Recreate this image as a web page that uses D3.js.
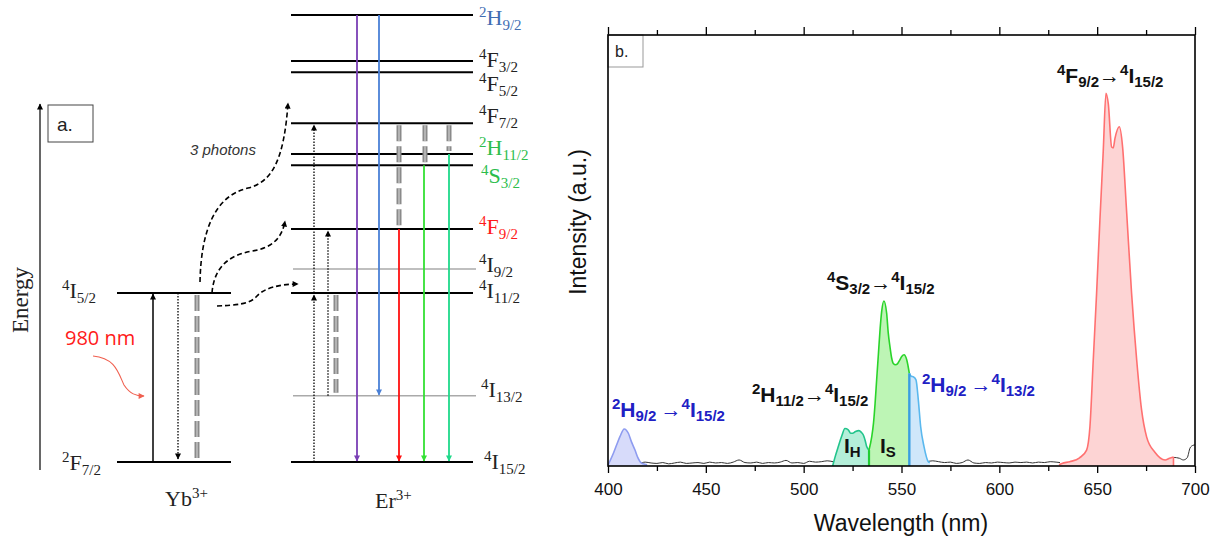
<!DOCTYPE html>
<html><head><meta charset="utf-8">
<script src="https://cdn.jsdelivr.net/npm/d3@7"></script>
<style>body{margin:0;background:#fff}svg{display:block}</style>
</head><body>
<script>
// ===== DATA =====
// Panel a: energy levels (diagram units, 0 = ground)
const erLevelNames  = ['4I15/2','4I13/2','4I11/2','4I9/2','4F9/2','4S3/2','2H11/2','4F7/2','4F5/2','4F3/2','2H9/2'];
const erLevelEnergy = [0, 14.8, 37.8, 43.2, 52.1, 66.4, 68.9, 75.8, 87.2, 89.7, 100];
const ybLevelNames  = ['2F7/2','4I5/2'];
const ybLevelEnergy = [0, 37.8];
const erEmissions   = [['2H9/2','4I15/2'],['2H9/2','4I13/2'],['4F9/2','4I15/2'],['4S3/2','4I15/2'],['2H11/2','4I15/2']];
const erNonRad      = [['4F7/2','4F9/2'],['4F7/2','4S3/2'],['4F7/2','2H11/2'],['4I11/2','4I13/2']];
const erExcite      = [['4I15/2','4I11/2'],['4I11/2','4F7/2'],['4I13/2','4F9/2']];
const etTargets     = ['4F7/2','4F9/2','4I11/2'];

// Panel b: spectrum (wavelength nm, intensity a.u.)
const xTicks = [400,450,500,550,600,650,700];
const xMinorTicks = [425,475,525,575,625,675];
const violetWl = [400,402.7,404.5,406.1,408.3,410.4,412,413.8,415.2,416.4,418,420];
const violetI  = [0.2,2.9,5,6.8,8.6,7.6,5.6,3.7,2,1,0.5,0.3];
const ihWl = [514.8,516,517.7,519.5,521.1,522.8,524,525,526.5,528.2,529.5,530.5,531.5,532.2,533.4];
const ihI  = [0,2,4.5,7,8.7,8.4,7.6,7.6,8.0,8.2,7.8,7.2,5.8,4.5,3.7];
const isWl = [533.4,534.8,535.7,536.5,537.3,538.2,539.1,539.9,541,542.4,543.2,544.1,545,545.8,547,547.9,549,550.1,551.3,552.7,554];
const isI  = [3.7,6.8,10,14.5,20,26,32,36,38.3,35.5,31,27.7,25,23.8,23.5,23.7,24.5,25.4,25.8,24.6,21.5];
const blueWl = [554,555,556,557.4,558.6,559.8,561.5,563.7,564.5];
const blueI  = [21.5,20.8,20.7,20,15.3,9.1,4.5,1,0.8];
const redWl = [630.5,632,636,641,644.6,646.3,648,649.7,651.4,653.1,654.5,655.7,657.4,658.2,659.1,661.3,663,665,667.6,670.2,672.7,675.3,679.5,684.7,687,689];
const redI  = [0.3,0.6,1.0,1.9,3.7,9.1,24.6,40,57,73,86.5,84,74,73.8,76,78.7,74,59.4,40,24.6,13,6.7,3.2,1.4,1.8,2.1];
const noise1Wl = [416,419,422,425,428,431,434,437,440,443,446,449,452,455,458,461,464,467,470,473,476,479,482,485,488,491,494,497,500,503,506,509,512,515];
const noise1I  = [0.5,0.9,0.7,0.6,0.8,0.5,0.7,0.9,0.6,0.7,0.8,0.6,0.9,0.7,0.8,0.6,0.9,1.4,0.8,0.7,0.9,0.6,0.8,0.7,0.9,1.3,0.7,0.8,0.6,1.1,0.9,1.0,1.2,1.0];
const noise2Wl = [563,566,569,572,575,578,581,584,587,590,593,596,599,602,605,608,611,614,617,620,623,626,629,631];
const noise2I  = [1.0,1.2,1.0,0.8,0.9,0.6,0.8,1.4,0.7,0.6,0.8,0.7,0.9,0.8,0.7,0.9,0.8,0.9,0.7,0.9,0.8,1.0,0.9,0.8];
const noise3Wl = [689,692,694,696,697.5,699,700];
const noise3I  = [2.0,1.8,1.4,1.9,4.2,4.8,4.9];

// ===== DRAWING =====
const svg = d3.select('body').append('svg').attr('width',1217).attr('height',541)
  .attr('font-family','"Liberation Sans", Arial, sans-serif');
const defs = svg.append('defs');
function marker(id, color, w=7, h=6){
  defs.append('marker').attr('id',id).attr('viewBox','0 0 10 10').attr('refX',9).attr('refY',5)
    .attr('markerWidth',w).attr('markerHeight',h).attr('markerUnits','userSpaceOnUse').attr('orient','auto')
    .append('path').attr('d','M0,0 L10,5 L0,10 z').attr('fill',color);
}
marker('ak','#000'); marker('ared','#f06050');

function rich(sel, x, y, parts, base, small, supS, subS){
  const t = sel.append('text').attr('x',x).attr('y',y);
  let cur = 0;
  parts.forEach(([s,k,extra])=>{
    const tgt = k==='sup' ? -supS : k==='sub' ? subS : 0;
    const ts = t.append('tspan').attr('dy',tgt-cur).attr('font-size', k==='n'?base:small).text(s);
    if (extra) Object.entries(extra).forEach(([a,v])=>ts.attr(a,v));
    cur = tgt;
  });
  return t;
}
const termParts = n => [[n[0],'sup'],[n[1],'n'],[n.slice(2),'sub']];

// ---------- Panel a ----------
const yE = d3.scaleLinear().domain([0,100]).range([462,15]);
const erY = n => yE(erLevelEnergy[erLevelNames.indexOf(n)]);
const ybY = n => yE(ybLevelEnergy[ybLevelNames.indexOf(n)]);
const A = svg.append('g');
const serif = '"Liberation Serif", "Times New Roman", serif';

// energy axis
A.append('line').attr('x1',40).attr('x2',40).attr('y1',470).attr('y2',104)
  .attr('stroke','#000').attr('stroke-width',1.2).attr('marker-end','url(#ak)');
A.append('text').attr('transform','translate(28,300) rotate(-90)').attr('text-anchor','middle')
  .attr('font-family',serif).attr('font-size',23).attr('fill','#222').text('Energy');
A.append('rect').attr('x',48).attr('y',105).attr('width',45).attr('height',37).attr('fill','#fff').attr('stroke','#444');
A.append('text').attr('x',57).attr('y',131).attr('font-size',19).attr('fill','#222').text('a.');

// Yb levels
const grayLevels = ['4I9/2','4I13/2'];
ybLevelNames.forEach(n=>{
  A.append('line').attr('x1',117).attr('x2',231).attr('y1',ybY(n)).attr('y2',ybY(n)).attr('stroke','#000').attr('stroke-width',2);
});
rich(A.append('g').attr('font-family',serif).attr('fill','#222'),62,ybY('4I5/2')+5,termParts('4I5/2'),22,15,8,5);
rich(A.append('g').attr('font-family',serif).attr('fill','#222'),62,ybY('2F7/2')+8,termParts('2F7/2'),22,15,8,5);
rich(A.append('g').attr('font-family',serif).attr('fill','#222'),165,506,[['Yb','n'],['3+','sup']],22,15,8,5);

// Er levels
const erLabelColor = {'2H9/2':'#3f6db3','2H11/2':'#2cbd4c','4S3/2':'#2cbd4c','4F9/2':'#ff1a1a'};
const erLabelDy = {'2H9/2':10,'4F3/2':6,'4F5/2':19,'4F7/2':0,'2H11/2':1,'4S3/2':18,'4F9/2':5,'4I9/2':3,'4I11/2':5,'4I13/2':1,'4I15/2':7};
erLevelNames.forEach(n=>{
  const gray = grayLevels.includes(n);
  A.append('line').attr('x1',gray?293:291).attr('x2',gray?476:473).attr('y1',erY(n)).attr('y2',erY(n))
    .attr('stroke',gray?'#aaa':'#000').attr('stroke-width',gray?1.5:2);
  rich(A.append('g').attr('font-family',serif).attr('fill',erLabelColor[n]||'#222'),
       n==='4I15/2'?484:(n==='4S3/2'||n==='4I13/2'?481:479), erY(n)+erLabelDy[n], termParts(n),22,15,8,5);
});
rich(A.append('g').attr('font-family',serif).attr('fill','#222'),375,508,[['Er','n'],['3+','sup']],22,15,8,5);

// gray non-radiative helper
function nonrad(x,y1,y2){
  [['#8a8a8a',5],['#cfcfcf',1.2]].forEach(([c,w])=>{
    A.append('line').attr('x1',x).attr('x2',x).attr('y1',y1).attr('y2',y2)
      .attr('stroke',c).attr('stroke-width',w).attr('stroke-dasharray','16,5');
  });
}
// Yb transitions
A.append('line').attr('x1',153).attr('x2',153).attr('y1',ybY('2F7/2')).attr('y2',ybY('4I5/2')+1)
  .attr('stroke','#000').attr('stroke-width',1.5).attr('marker-end','url(#ak)');
A.append('line').attr('x1',178).attr('x2',178).attr('y1',ybY('4I5/2')).attr('y2',ybY('2F7/2')-3)
  .attr('stroke','#000').attr('stroke-width',1.3).attr('stroke-dasharray','1.5,1.5').attr('marker-end','url(#ak)');
nonrad(197, ybY('4I5/2')+2, ybY('2F7/2'));

// Er emissions
const emX = [357,379,399,424,449];
const emC = ['#7a3fb5','#4a80d6','#ff1010','#33e033','#1fd98a'];
erEmissions.forEach(([f,t],i)=>{
  marker('am'+i, emC[i]);
  A.append('line').attr('x1',emX[i]).attr('x2',emX[i]).attr('y1',erY(f)).attr('y2',erY(t)-1)
    .attr('stroke',emC[i]).attr('stroke-width',1.8).attr('marker-end',`url(#am${i})`);
});
// non radiative
const nrX = [399,425,449,336];
erNonRad.forEach(([f,t],i)=>nonrad(nrX[i], erY(f)+2, erY(t)-3));
// excitations (dotted)
const exX = [314,314,328];
erExcite.forEach(([f,t],i)=>{
  A.append('line').attr('x1',exX[i]).attr('x2',exX[i]).attr('y1',erY(f)).attr('y2',erY(t)+2)
    .attr('stroke','#000').attr('stroke-width',1.3).attr('stroke-dasharray','1.5,1.5').attr('marker-end','url(#ak)');
});
// energy transfer dashed curves
const yb5 = ybY('4I5/2');
const etPaths = [
  p=>{const e=erY(etTargets[0])-20; p.moveTo(200,yb5-11); p.bezierCurveTo(201,yb5-61,214,yb5-97,248,yb5-105); p.bezierCurveTo(272,yb5-111,284,e+57,288,e);},
  p=>{const e=erY(etTargets[1])-8; p.moveTo(212,yb5); p.bezierCurveTo(214,yb5-27,230,yb5-38,252,yb5-42); p.bezierCurveTo(272,yb5-45,282,e+17,285,e);},
  p=>{const e=erY(etTargets[2])-9; p.moveTo(217,yb5+13); p.bezierCurveTo(238,yb5+12,250,yb5+11,257,yb5+3); p.bezierCurveTo(264,yb5-5,280,e,298,e);}
];
etPaths.forEach(fn=>{
  const p=d3.path(); fn(p);
  A.append('path').attr('d',p.toString()).attr('fill','none').attr('stroke','#000').attr('stroke-width',1.6)
    .attr('stroke-dasharray','5,3').attr('marker-end','url(#ak)');
});
A.append('text').attr('x',190).attr('y',155).attr('font-size',15).attr('font-style','italic').attr('fill','#333').text('3 photons');
// 980 nm
A.append('text').attr('x',65).attr('y',345).attr('font-size',20).attr('font-family','"Open Sans", sans-serif').attr('fill','#ff1a1a').text('980 nm');
{const p=d3.path(); p.moveTo(93,356); p.bezierCurveTo(115,358,118,372,124,385); p.bezierCurveTo(130,394,136,396,144,396);
 A.append('path').attr('d',p.toString()).attr('fill','none').attr('stroke','#f06050').attr('stroke-width',1.1).attr('marker-end','url(#ared)');}

// ---------- Panel b ----------
const xW = d3.scaleLinear().domain([400,700]).range([608,1195]);
const yI = d3.scaleLinear().domain([0,100]).range([466,35]);
const B = svg.append('g');
const area = d3.area().x(d=>xW(d[0])).y0(yI(0)).y1(d=>yI(d[1])).curve(d3.curveMonotoneX);
const line = d3.line().x(d=>xW(d[0])).y(d=>yI(d[1])).curve(d3.curveMonotoneX);
const zip = (a,b)=>a.map((v,i)=>[v,b[i]]);

[[noise1Wl,noise1I],[noise2Wl,noise2I],[noise3Wl,noise3I]].forEach(([w,v])=>{
  B.append('path').attr('d',line(zip(w,v))).attr('fill','none').attr('stroke','#333').attr('stroke-width',1);
});
const bands = [
  [violetWl,violetI,'#d7dbfa','#8e9cf0'],
  [ihWl,ihI,'#b4efd9','#22c48c'],
  [isWl,isI,'#bdf5b5','#2ad42a'],
  [blueWl,blueI,'#cfe7fa','#5ab8ee'],
  [redWl,redI,'#fdd4d4','#ff7070']
];
bands.forEach(([w,v,f,s])=>{
  const d = zip(w,v);
  B.append('path').attr('d', area(d)).attr('fill',f);
  B.append('path').attr('d', line(d)).attr('fill','none').attr('stroke',s).attr('stroke-width',1.6);
});
// vertical edges
B.append('line').attr('x1',xW(689)).attr('x2',xW(689)).attr('y1',yI(0)).attr('y2',yI(2.1)).attr('stroke','#ff7070').attr('stroke-width',1.6);
B.append('line').attr('x1',xW(533.4)).attr('x2',xW(533.4)).attr('y1',yI(0)).attr('y2',yI(3.7)).attr('stroke','#22cc33').attr('stroke-width',2.2);
B.append('line').attr('x1',xW(554)).attr('x2',xW(554)).attr('y1',yI(0)).attr('y2',yI(21.5)).attr('stroke','#3a9ee0').attr('stroke-width',2.4);

// frame + axes
const axB = B.append('g').attr('transform','translate(0,466)')
  .call(d3.axisBottom(xW).tickValues(xTicks).tickSize(7).tickPadding(10).tickFormat(d3.format('d')));
B.append('g').attr('transform','translate(0,466)').call(d3.axisBottom(xW).tickValues(xMinorTicks).tickSize(5).tickFormat(''));
B.append('g').attr('transform','translate(0,35)').call(d3.axisTop(xW).tickValues(xTicks).tickSize(8).tickFormat(''));
B.append('g').attr('transform','translate(0,35)').call(d3.axisTop(xW).tickValues(xMinorTicks).tickSize(5).tickFormat(''));
B.selectAll('.domain').remove();
B.selectAll('.tick line').attr('stroke','#000').attr('stroke-width',1.3);
axB.selectAll('text').attr('font-size',17).attr('font-family','"Liberation Sans", Arial, sans-serif').attr('fill','#111');
B.append('text').attr('x',901).attr('y',531).attr('text-anchor','middle').attr('font-size',23).attr('fill','#111').text('Wavelength (nm)');
B.append('text').attr('transform','translate(586,222) rotate(-90)').attr('text-anchor','middle').attr('font-size',23).attr('fill','#111').text('Intensity (a.u.)');
B.append('rect').attr('x',608).attr('y',35).attr('width',35).attr('height',32).attr('fill','#fff').attr('stroke','#999');
B.append('text').attr('x',615).attr('y',57).attr('font-size',16).attr('fill','#222').text('b.');
B.append('rect').attr('x',608).attr('y',35).attr('width',587).attr('height',431).attr('fill','none').attr('stroke','#000').attr('stroke-width',1.6);

// annotations
const bold = B.append('g').attr('font-weight','bold').attr('fill','#111');
rich(bold,1057,83,[['4','sup'],['F','n'],['9/2','sub'],['→','n'],['4','sup'],['I','n'],['15/2','sub']],21,15,8,4);
rich(bold,827,290,[['4','sup'],['S','n'],['3/2','sub'],['→','n'],['4','sup'],['I','n'],['15/2','sub']],21,15,8,4);
rich(bold,752,402,[['2','sup'],['H','n'],['11/2','sub'],['→','n'],['4','sup'],['I','n'],['15/2','sub']],21,15,8,4);
rich(bold,844,453,[['I','n'],['H','sub']],21,15,8,4);
rich(bold,880,453,[['I','n'],['S','sub']],21,15,8,4);
const blueG = B.append('g').attr('font-weight','bold').attr('fill','#2020c4');
const thin = {'font-weight':'normal'};
rich(blueG,612,417,[['2','sup'],['H','n'],['9/2 ','sub'],['→','n',thin],['4','sup'],['I','n'],['15/2','sub']],21,15,8,4);
rich(blueG,922,392,[['2','sup'],['H','n'],['9/2 ','sub'],['→','n',thin],['4','sup'],['I','n'],['13/2','sub']],21,15,8,4);
</script>
</body></html>
